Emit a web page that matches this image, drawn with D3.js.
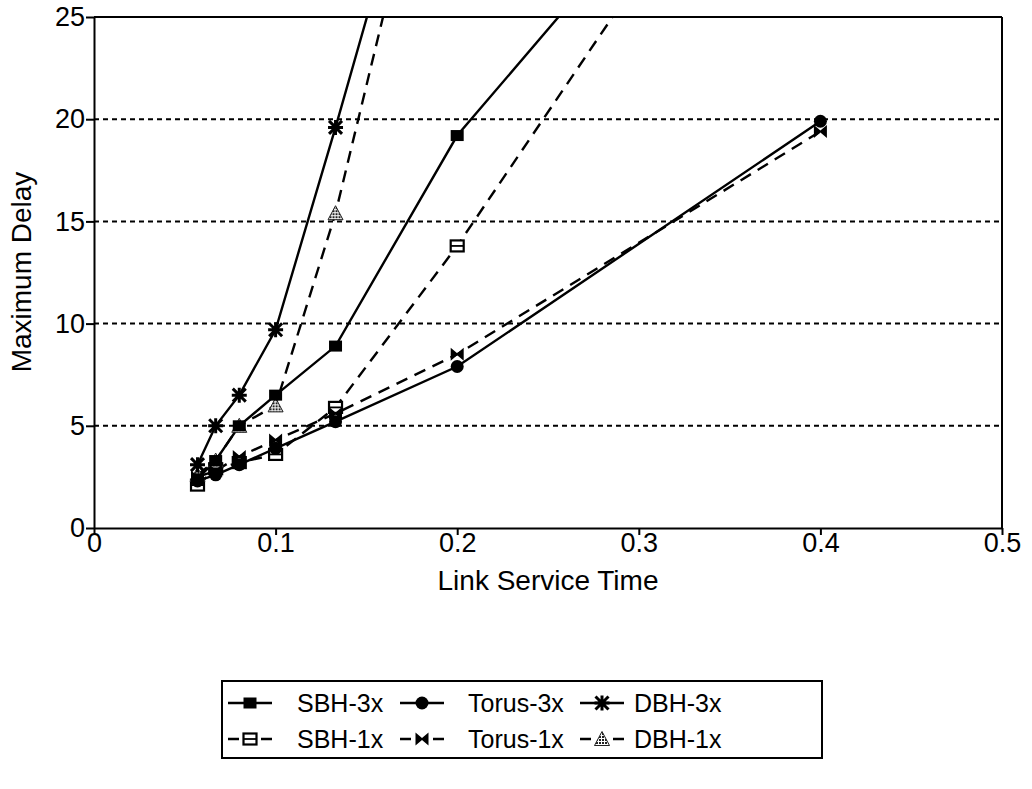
<!DOCTYPE html>
<html>
<head>
<meta charset="utf-8">
<script src="https://cdn.jsdelivr.net/npm/d3@7"></script>
<style>
  html, body { margin: 0; padding: 0; background: #fff; }
  svg { display: block; font-family: "Liberation Sans", Arial, Helvetica, sans-serif; }
</style>
</head>
<body>
<svg id="chart" width="1032" height="789"></svg>
<script>
// Link service time (x) shared by all series
const serviceTimes = [0.057, 0.067, 0.08, 0.1, 0.133, 0.2, 0.4];

// Maximum delay per network configuration
const sbh3x   = [2.4, 3.3, 5.0, 6.5, 8.9, 19.2, 40.0];
const torus3x = [2.3, 2.6, 3.1, 3.9, 5.2, 7.9, 19.9];
const dbh3x   = [3.1, 5.0, 6.5, 9.7, 19.6, 40.5];
const sbh1x   = [2.1, 2.9, 3.2, 3.6, 5.9, 13.8, 40.0];
const torus1x = [2.5, 2.8, 3.5, 4.3, 5.6, 8.5, 19.4];
const dbh1x   = [2.6, 3.3, 5.0, 6.0, 15.4, 40.0];

const seriesNames = ["SBH-3x", "Torus-3x", "DBH-3x", "SBH-1x", "Torus-1x", "DBH-1x"];
const xTicks = [0, 0.1, 0.2, 0.3, 0.4, 0.5];
const xTickLabels = ["0", "0.1", "0.2", "0.3", "0.4", "0.5"];
const yTicks = [0, 5, 10, 15, 20, 25];
const gridValues = [5, 10, 15, 20];

const series = [
  { name: seriesNames[0], values: sbh3x,   dashed: false, marker: "square" },
  { name: seriesNames[1], values: torus3x, dashed: false, marker: "circle" },
  { name: seriesNames[2], values: dbh3x,   dashed: false, marker: "asterisk" },
  { name: seriesNames[3], values: sbh1x,   dashed: true,  marker: "openSquare" },
  { name: seriesNames[4], values: torus1x, dashed: true,  marker: "bowtie" },
  { name: seriesNames[5], values: dbh1x,   dashed: true,  marker: "triangle" }
];

const FONT = 27;
const svg = d3.select("#chart");
const plot = { left: 94, right: 1002, top: 17, bottom: 528 };

const x = d3.scaleLinear().domain([0, 0.5]).range([plot.left, plot.right]);
const y = d3.scaleLinear().domain([0, 25]).range([plot.bottom, plot.top]);

// stipple pattern for the grey triangle marker
const defs = svg.append("defs");
const pat = defs.append("pattern").attr("id", "stipple")
  .attr("width", 3).attr("height", 3).attr("patternUnits", "userSpaceOnUse");
pat.append("rect").attr("width", 3).attr("height", 3).attr("fill", "#fff");
pat.append("rect").attr("width", 2).attr("height", 2).attr("fill", "#222");

defs.append("clipPath").attr("id", "plotClip")
  .append("rect")
  .attr("x", plot.left).attr("y", plot.top)
  .attr("width", plot.right - plot.left).attr("height", plot.bottom - plot.top);

// dotted horizontal grid lines
svg.append("g").selectAll("line").data(gridValues).join("line")
  .attr("x1", plot.left).attr("x2", plot.right)
  .attr("y1", d => y(d)).attr("y2", d => y(d))
  .attr("stroke", "#000").attr("stroke-width", 2)
  .attr("stroke-dasharray", "5,4");

// axes
const xAxis = d3.axisBottom(x).tickValues(xTicks)
  .tickFormat((d, i) => xTickLabels[i]).tickSize(7).tickSizeOuter(0);
const yAxis = d3.axisLeft(y).tickValues(yTicks).tickSize(8).tickSizeOuter(0);

const gx = svg.append("g").attr("transform", `translate(0,${plot.bottom})`).call(xAxis);
const gy = svg.append("g").attr("transform", `translate(${plot.left},0)`).call(yAxis);
[gx, gy].forEach(g => {
  g.selectAll("path.domain").attr("stroke", "#000").attr("stroke-width", 2);
  g.selectAll(".tick line").attr("stroke", "#000").attr("stroke-width", 2);
  g.selectAll(".tick text").attr("fill", "#000")
    .style("font-size", FONT + "px")
    .style("font-family", "'Liberation Sans', Arial, sans-serif");
});
gx.selectAll(".tick text").attr("dy", 0).attr("y", 24);
gy.selectAll(".tick text").attr("x", -9);

// top and right frame
svg.append("line").attr("x1", plot.left).attr("x2", plot.right)
  .attr("y1", plot.top).attr("y2", plot.top).attr("stroke", "#000").attr("stroke-width", 2);
svg.append("line").attr("x1", plot.right).attr("x2", plot.right)
  .attr("y1", plot.top).attr("y2", plot.bottom).attr("stroke", "#000").attr("stroke-width", 2);

// axis titles
svg.append("text").attr("x", 548).attr("y", 590)
  .attr("text-anchor", "middle").style("font-size", "28px").text("Link Service Time");
svg.append("text").attr("transform", `translate(31,272) rotate(-90)`)
  .attr("text-anchor", "middle").style("font-size", "28px").text("Maximum Delay");

// marker drawing
function drawMarker(g, type, cx, cy) {
  const m = g.append("g").attr("transform", `translate(${cx},${cy})`);
  const s = 6.5;
  if (type === "square") {
    m.append("rect").attr("x", -s).attr("y", -s + 1).attr("width", 2 * s).attr("height", 2 * s - 2).attr("fill", "#000");
  } else if (type === "circle") {
    m.append("circle").attr("r", s).attr("fill", "#000");
  } else if (type === "asterisk") {
    m.append("path").attr("d", `M${-s},${-s}L${s},${s}M${-s},${s}L${s},${-s}M0,${-s - 1}L0,${s + 1}M${-s - 1},0L${s + 1},0`)
      .attr("stroke", "#000").attr("stroke-width", 3);
  } else if (type === "openSquare") {
    m.append("rect").attr("x", -s).attr("y", -s + 1).attr("width", 2 * s).attr("height", 2 * s - 2)
      .attr("fill", "#fff").attr("stroke", "#000").attr("stroke-width", 2.2);
    m.append("line").attr("x1", -s).attr("x2", s).attr("y1", 0).attr("y2", 0)
      .attr("stroke", "#000").attr("stroke-width", 1.8);
  } else if (type === "bowtie") {
    m.append("path").attr("d", `M${-s},${-s}L0,${-1}L${s},${-s}L${s},${s}L0,1L${-s},${s}Z`).attr("fill", "#000");
  } else if (type === "triangle") {
    m.append("path").attr("d", `M0,${-s - 1}L${s + 1},${s}L${-s - 1},${s}Z`)
      .attr("fill", "url(#stipple)").attr("stroke", "#222").attr("stroke-width", 1);
  }
}

const line = d3.line().x(d => x(d[0])).y(d => y(d[1]));
const linesG = svg.append("g").attr("clip-path", "url(#plotClip)");

series.forEach(s => {
  const pts = s.values.map((v, i) => [serviceTimes[i], v]);
  linesG.append("path").datum(pts)
    .attr("d", line).attr("fill", "none").attr("stroke", "#000")
    .attr("stroke-width", 2.4)
    .attr("stroke-dasharray", s.dashed ? "12,8" : null);
});

// markers drawn after all lines; 1x first so the solid 3x markers sit on top
const markG = svg.append("g").attr("clip-path", "url(#plotClip)");
[3, 5, 4, 0, 1, 2].forEach(k => {
  const s = series[k];
  s.values.forEach((v, i) => {
    if (v <= 25) drawMarker(markG, s.marker, x(serviceTimes[i]), y(v));
  });
});

// legend: two rows of three entries in a framed box
const legend = { x0: 222, y0: 681, x1: 822, y1: 758 };
svg.append("rect").attr("x", legend.x0).attr("y", legend.y0)
  .attr("width", legend.x1 - legend.x0).attr("height", legend.y1 - legend.y0)
  .attr("fill", "none").attr("stroke", "#000").attr("stroke-width", 2);

const sampleStart = [228, 400, 580];
const sampleLen = 44;
const textStart = [297, 468, 634];
const rowY = [703, 739];
series.forEach((s, i) => {
  const col = i % 3, row = Math.floor(i / 3);
  const lx = sampleStart[col], ly = rowY[row];
  const lg = svg.append("g");
  lg.append("line").attr("x1", lx).attr("x2", lx + sampleLen).attr("y1", ly).attr("y2", ly)
    .attr("stroke", "#000").attr("stroke-width", 2.4)
    .attr("stroke-dasharray", s.dashed ? "11,22,11" : null);
  drawMarker(lg, s.marker, lx + sampleLen / 2, ly);
  lg.append("text").attr("x", textStart[col]).attr("y", ly + 9)
    .style("font-size", "25px").text(s.name);
});
</script>
</body>
</html>
